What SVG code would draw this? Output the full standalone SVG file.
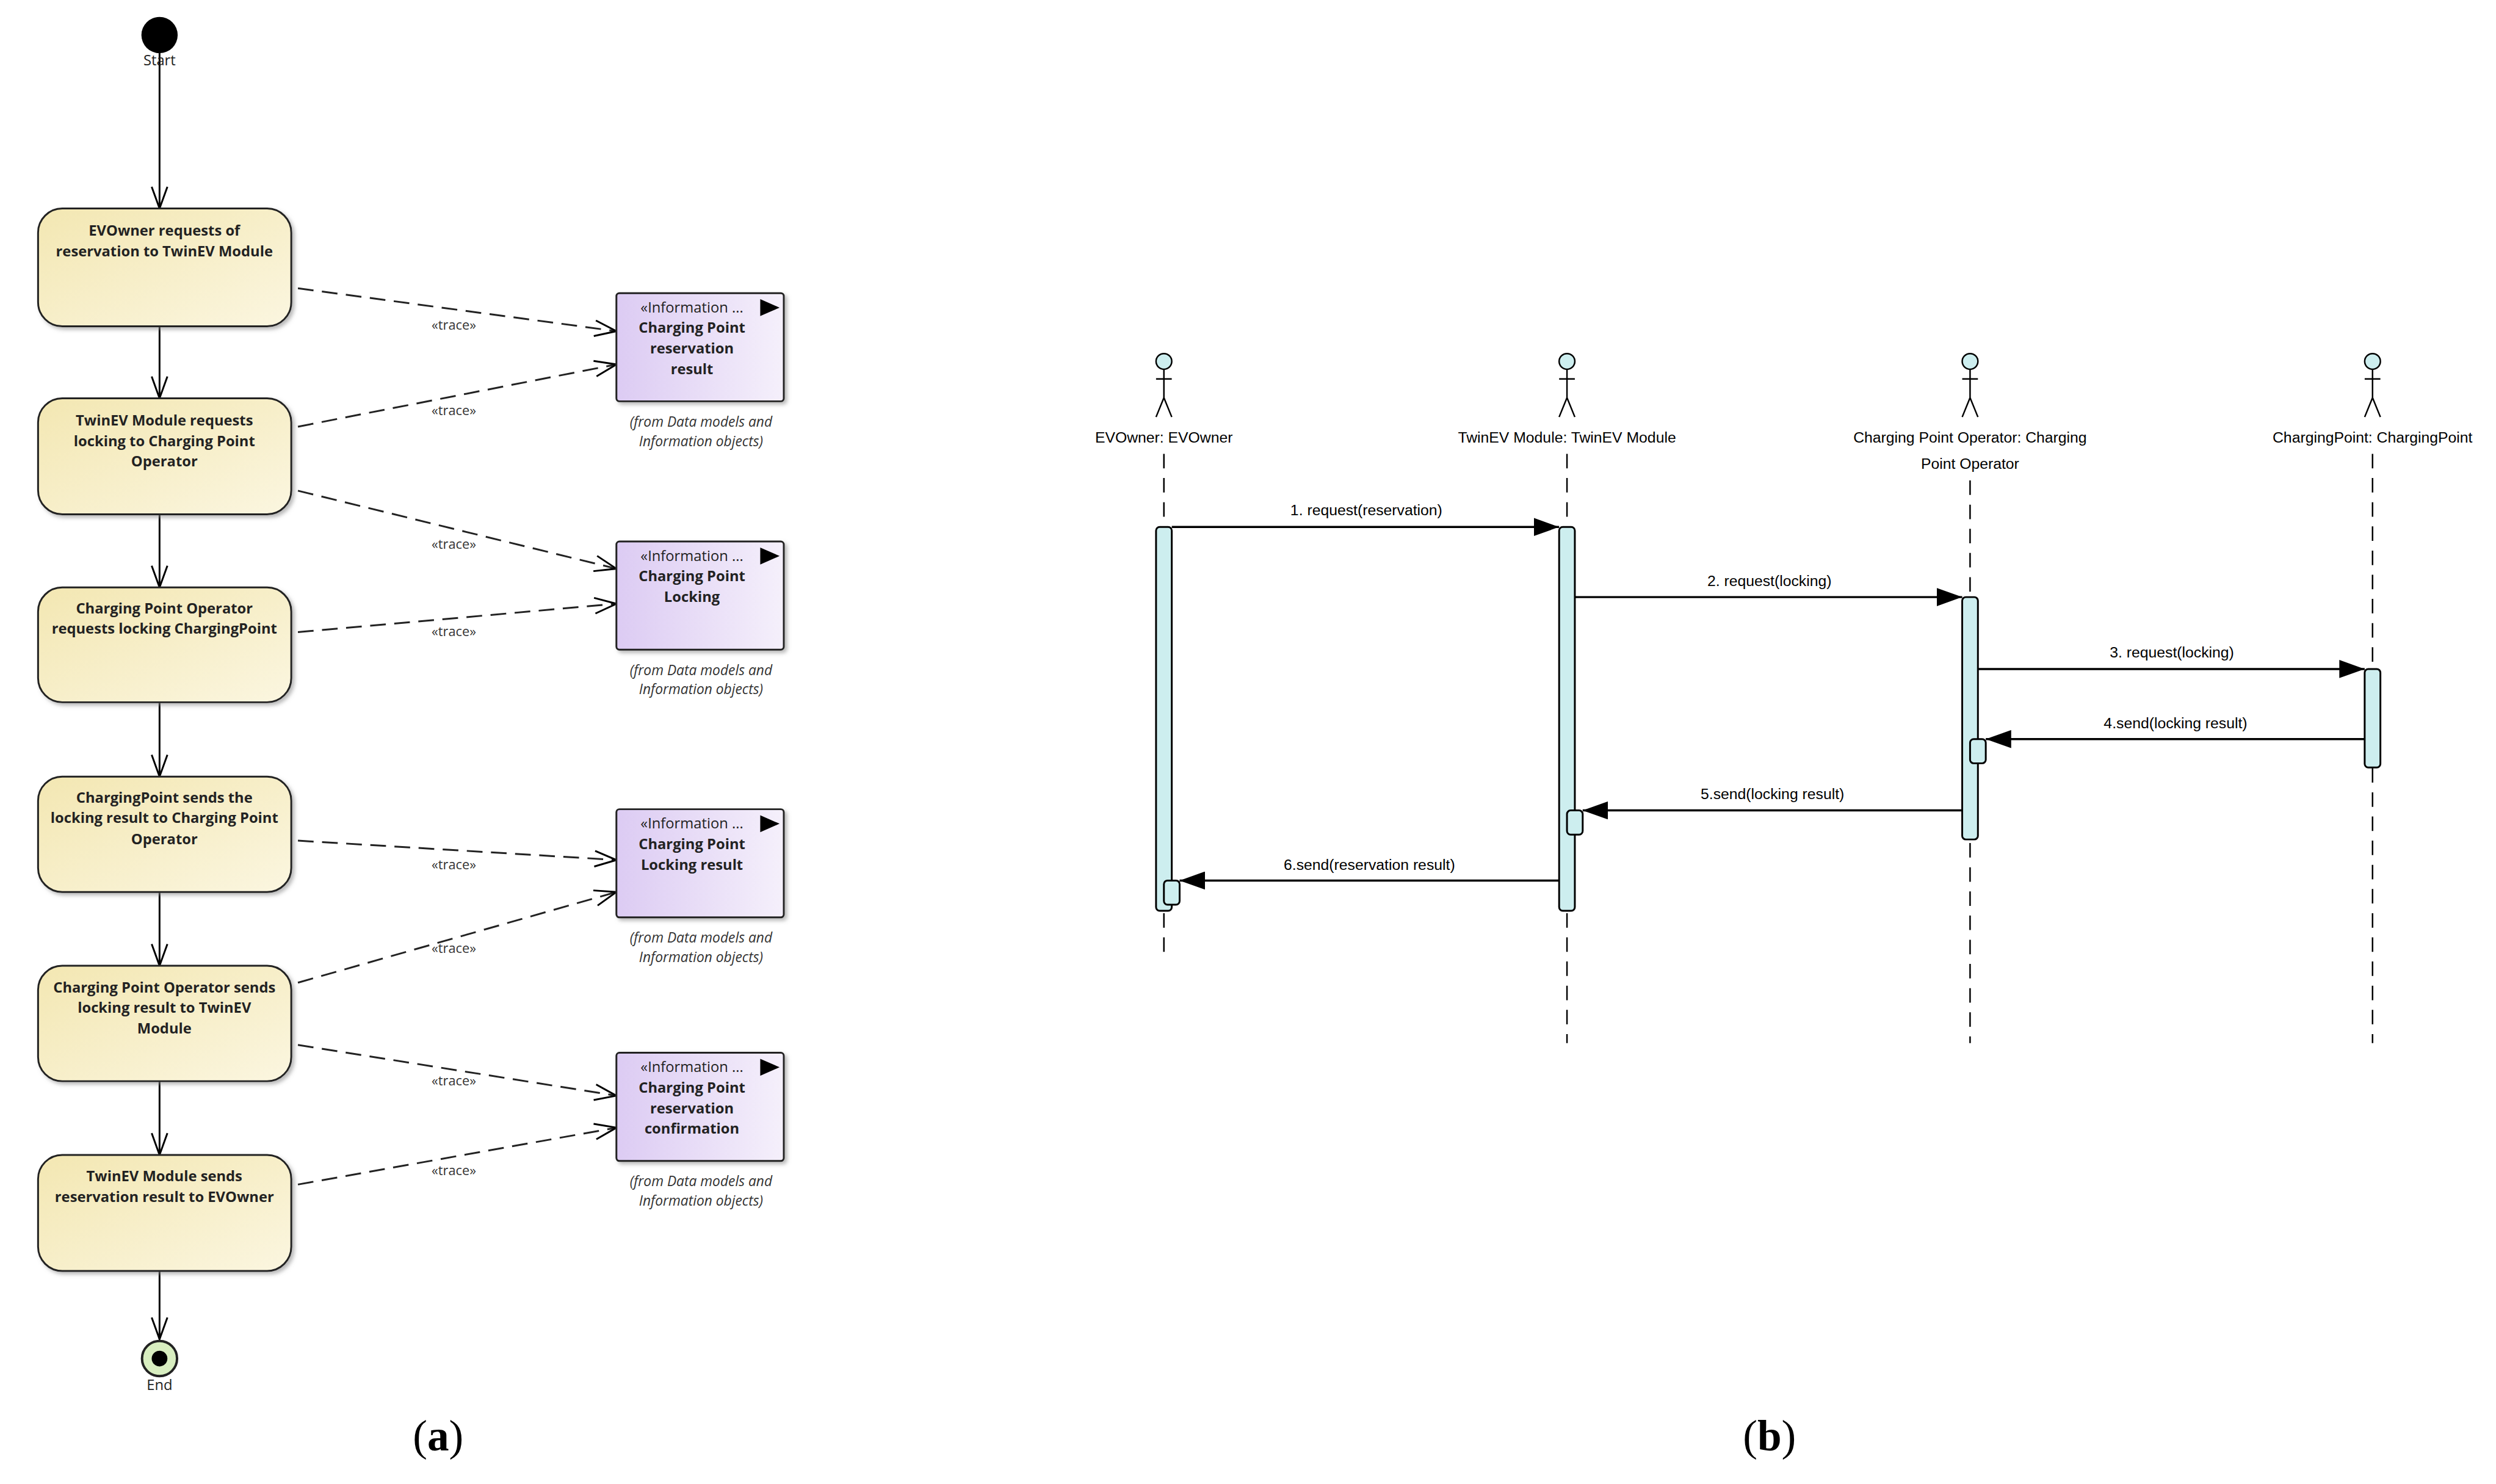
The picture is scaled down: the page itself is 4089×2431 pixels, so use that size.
<svg xmlns="http://www.w3.org/2000/svg" width="4089" height="2431" viewBox="0 0 4089 2431">
<defs>
<linearGradient id="yel" x1="0" y1="0" x2="1" y2="1"><stop offset="0" stop-color="#f3e7b2"/><stop offset="1" stop-color="#fbf6e0"/></linearGradient>
<linearGradient id="pur" x1="0" y1="0" x2="1" y2="0"><stop offset="0" stop-color="#dccbf3"/><stop offset="1" stop-color="#f5f0fb"/></linearGradient>
<marker id="open" markerWidth="40" markerHeight="30" refX="38" refY="15" orient="auto" markerUnits="userSpaceOnUse"><path d="M2,2 L38,15 L2,28" fill="none" stroke="#000" stroke-width="3"/></marker>
<marker id="fill" markerWidth="42" markerHeight="30" refX="42" refY="15" orient="auto" markerUnits="userSpaceOnUse"><path d="M0,0 L42,15 L0,30 Z" fill="#000"/></marker>
<filter id="sh"><feDropShadow dx="4" dy="4" stdDeviation="3" flood-color="#888" flood-opacity="0.6"/></filter>
</defs>
<style>
.act{fill:url(#yel);stroke:#222;stroke-width:3;filter:url(#sh)}
.at{font-family:"Open Sans","Liberation Sans",sans-serif;font-weight:bold;font-size:24px;text-anchor:middle;fill:#222}
.info{fill:url(#pur);stroke:#222;stroke-width:3;filter:url(#sh)}
.it{font-family:"Open Sans","Liberation Sans",sans-serif;font-size:24px;text-anchor:middle;fill:#222}
.itb{font-family:"Open Sans","Liberation Sans",sans-serif;font-weight:bold;font-size:24px;text-anchor:middle;fill:#222}
.note{font-family:"Open Sans","Liberation Sans",sans-serif;font-style:italic;font-size:23px;text-anchor:middle;fill:#333}
.tr{font-family:"Open Sans","Liberation Sans",sans-serif;font-size:22px;text-anchor:middle;fill:#333}
.flow{stroke:#000;stroke-width:3;fill:none;marker-end:url(#open)}
.dash{stroke:#222;stroke-width:3;fill:none;stroke-dasharray:26,14;marker-end:url(#open)}
.sl{font-family:"Liberation Sans",sans-serif;font-size:25px;text-anchor:middle;fill:#000}
.life{stroke:#000;stroke-width:2.5;stroke-dasharray:24,16}
.bar{fill:#cdeeef;stroke:#000;stroke-width:3}
.msg{stroke:#000;stroke-width:3.5;marker-end:url(#fill)}
.cap{font-family:"Liberation Serif",serif;font-size:72px;text-anchor:middle;fill:#000}
</style>
<g transform="scale(0.99)">
<g id="connectors">
<line class="flow" x1="264" y1="62" x2="264" y2="345"/>
<line class="flow" x1="264" y1="540" x2="264" y2="659"/>
<line class="flow" x1="264" y1="851" x2="264" y2="972"/>
<line class="flow" x1="264" y1="1162" x2="264" y2="1285"/>
<line class="flow" x1="264" y1="1476" x2="264" y2="1598"/>
<line class="flow" x1="264" y1="1789" x2="264" y2="1911"/>
<line class="flow" x1="264" y1="2103" x2="264" y2="2216"/>
<line class="dash" x1="493" y1="477" x2="1020" y2="548"/>
<line class="dash" x1="493" y1="706" x2="1020" y2="603"/>
<line class="dash" x1="493" y1="812" x2="1020" y2="941"/>
<line class="dash" x1="493" y1="1046" x2="1020" y2="999"/>
<line class="dash" x1="493" y1="1391" x2="1020" y2="1423"/>
<line class="dash" x1="493" y1="1626" x2="1020" y2="1476"/>
<line class="dash" x1="493" y1="1729" x2="1020" y2="1813"/>
<line class="dash" x1="493" y1="1960" x2="1020" y2="1866"/>
<text class="tr" x="751" y="545">«trace»</text>
<text class="tr" x="751" y="687">«trace»</text>
<text class="tr" x="751" y="908">«trace»</text>
<text class="tr" x="751" y="1053">«trace»</text>
<text class="tr" x="751" y="1438">«trace»</text>
<text class="tr" x="751" y="1577">«trace»</text>
<text class="tr" x="751" y="1796">«trace»</text>
<text class="tr" x="751" y="1944">«trace»</text>
</g>

<g id="start"><circle cx="264" cy="58" r="30" fill="#000"/><text class="it" x="264" y="108" font-size="22">Start</text></g>
<g id="end"><circle cx="264" cy="2248" r="29" fill="#d8eec0" stroke="#222" stroke-width="4"/><circle cx="264" cy="2248" r="13" fill="#000"/><text class="it" x="264" y="2300" font-size="22">End</text></g>

<g id="a1"><rect class="act" x="63" y="345" width="419" height="195" rx="40"/><text class="at" x="272" y="390">EVOwner requests of</text><text class="at" x="272" y="424">reservation to TwinEV Module</text></g>
<g id="a2"><rect class="act" x="63" y="659" width="419" height="192" rx="40"/><text class="at" x="272" y="704">TwinEV Module requests</text><text class="at" x="272" y="738">locking to Charging Point</text><text class="at" x="272" y="772">Operator</text></g>
<g id="a3"><rect class="act" x="63" y="972" width="419" height="190" rx="40"/><text class="at" x="272" y="1015">Charging Point Operator</text><text class="at" x="272" y="1049">requests locking ChargingPoint</text></g>
<g id="a4"><rect class="act" x="63" y="1285" width="419" height="191" rx="40"/><text class="at" x="272" y="1328">ChargingPoint sends the</text><text class="at" x="272" y="1362">locking result to Charging Point</text><text class="at" x="272" y="1397">Operator</text></g>
<g id="a5"><rect class="act" x="63" y="1598" width="419" height="191" rx="40"/><text class="at" x="272" y="1642">Charging Point Operator sends</text><text class="at" x="272" y="1676">locking result to TwinEV</text><text class="at" x="272" y="1710">Module</text></g>
<g id="a6"><rect class="act" x="63" y="1911" width="419" height="192" rx="40"/><text class="at" x="272" y="1955">TwinEV Module sends</text><text class="at" x="272" y="1989">reservation result to EVOwner</text></g>

<g id="i1"><rect class="info" x="1020" y="485" width="277" height="179" rx="5"/><text class="it" x="1145" y="517">«Information ...</text><path d="M1258,495 L1290,509 L1258,523 Z" fill="#000"/><text class="itb" x="1145" y="551">Charging Point</text><text class="itb" x="1145" y="585">reservation</text><text class="itb" x="1145" y="619">result</text><text class="note" x="1160" y="706">(from Data models and</text><text class="note" x="1160" y="738">Information objects)</text></g>
<g id="i2"><rect class="info" x="1020" y="896" width="277" height="179" rx="5"/><text class="it" x="1145" y="928">«Information ...</text><path d="M1258,906 L1290,920 L1258,934 Z" fill="#000"/><text class="itb" x="1145" y="962">Charging Point</text><text class="itb" x="1145" y="996">Locking</text><text class="note" x="1160" y="1117">(from Data models and</text><text class="note" x="1160" y="1149">Information objects)</text></g>
<g id="i3"><rect class="info" x="1020" y="1339" width="277" height="179" rx="5"/><text class="it" x="1145" y="1371">«Information ...</text><path d="M1258,1349 L1290,1363 L1258,1377 Z" fill="#000"/><text class="itb" x="1145" y="1405">Charging Point</text><text class="itb" x="1145" y="1439">Locking result</text><text class="note" x="1160" y="1560">(from Data models and</text><text class="note" x="1160" y="1592">Information objects)</text></g>
<g id="i4"><rect class="info" x="1020" y="1742" width="277" height="179" rx="5"/><text class="it" x="1145" y="1774">«Information ...</text><path d="M1258,1752 L1290,1766 L1258,1780 Z" fill="#000"/><text class="itb" x="1145" y="1808">Charging Point</text><text class="itb" x="1145" y="1842">reservation</text><text class="itb" x="1145" y="1876">confirmation</text><text class="note" x="1160" y="1963">(from Data models and</text><text class="note" x="1160" y="1995">Information objects)</text></g>

<g id="actor-evowner"><circle cx="1926" cy="598" r="13" fill="#cdeeef" stroke="#000" stroke-width="2.5"/><path d="M1926,611 V658 M1913,627 H1939 M1926,658 L1913,690 M1926,658 L1939,690" stroke="#000" stroke-width="2.5" fill="none"/><text class="sl" x="1926" y="732">EVOwner: EVOwner</text><line class="life" x1="1926" y1="751" x2="1926" y2="1589"/><rect class="bar" x="1913" y="872" width="26" height="635" rx="6"/><rect class="bar" x="1926" y="1457" width="26" height="40" rx="6"/></g>
<g id="actor-twinev"><circle cx="2593" cy="598" r="13" fill="#cdeeef" stroke="#000" stroke-width="2.5"/><path d="M2593,611 V658 M2580,627 H2606 M2593,658 L2580,690 M2593,658 L2606,690" stroke="#000" stroke-width="2.5" fill="none"/><text class="sl" x="2593" y="732">TwinEV Module: TwinEV Module</text><line class="life" x1="2593" y1="751" x2="2593" y2="1726"/><rect class="bar" x="2580" y="872" width="26" height="635" rx="6"/><rect class="bar" x="2593" y="1341" width="26" height="40" rx="6"/></g>
<g id="actor-cpo"><circle cx="3260" cy="598" r="13" fill="#cdeeef" stroke="#000" stroke-width="2.5"/><path d="M3260,611 V658 M3247,627 H3273 M3260,658 L3247,690 M3260,658 L3273,690" stroke="#000" stroke-width="2.5" fill="none"/><text class="sl" x="3260" y="732">Charging Point Operator: Charging</text><text class="sl" x="3260" y="776">Point Operator</text><line class="life" x1="3260" y1="795" x2="3260" y2="1726"/><rect class="bar" x="3247" y="988" width="26" height="401" rx="6"/><rect class="bar" x="3260" y="1223" width="26" height="40" rx="6"/></g>
<g id="actor-cp"><circle cx="3926" cy="598" r="13" fill="#cdeeef" stroke="#000" stroke-width="2.5"/><path d="M3926,611 V658 M3913,627 H3939 M3926,658 L3913,690 M3926,658 L3939,690" stroke="#000" stroke-width="2.5" fill="none"/><text class="sl" x="3926" y="732">ChargingPoint: ChargingPoint</text><line class="life" x1="3926" y1="751" x2="3926" y2="1726"/><rect class="bar" x="3913" y="1107" width="26" height="163" rx="6"/></g>

<g id="messages">
<line class="msg" x1="1939" y1="872" x2="2580" y2="872"/><text class="sl" x="2261" y="853">1. request(reservation)</text>
<line class="msg" x1="2606" y1="988" x2="3247" y2="988"/><text class="sl" x="2928" y="970">2. request(locking)</text>
<line class="msg" x1="3273" y1="1107" x2="3913" y2="1107"/><text class="sl" x="3594" y="1088">3. request(locking)</text>
<line class="msg" x1="3913" y1="1223" x2="3286" y2="1223"/><text class="sl" x="3600" y="1205">4.send(locking result)</text>
<line class="msg" x1="3247" y1="1341" x2="2619" y2="1341"/><text class="sl" x="2933" y="1322">5.send(locking result)</text>
<line class="msg" x1="2580" y1="1457" x2="1952" y2="1457"/><text class="sl" x="2266" y="1439">6.send(reservation result)</text>
</g>

<text class="cap" x="725" y="2400">(<tspan font-weight="bold">a</tspan>)</text>
<text class="cap" x="2928" y="2400">(<tspan font-weight="bold">b</tspan>)</text>
</g>
</svg>
